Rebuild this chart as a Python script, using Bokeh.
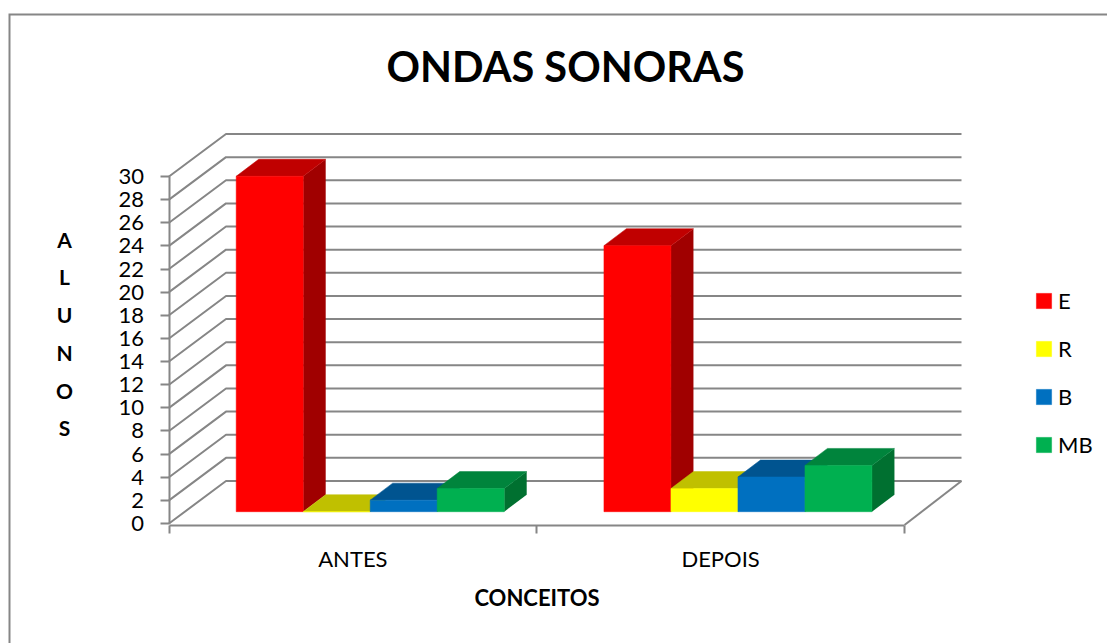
from bokeh.plotting import figure
from bokeh.models import (Range1d, LinearAxis, FixedTicker, Legend, LegendItem, Label)
from bokeh.core.properties import value
from bokeh.embed import file_html
from bokeh.resources import INLINE

# --- data
categories = ["ANTES", "DEPOIS"]
series_names = ["E", "R", "B", "MB"]
E = [29, 23]
R = [0, 2]
B = [1, 3]
MB = [2, 4]
y_ticks = list(range(0, 31, 2))

# --- style
front_colors = ["#FF0000", "#FFFF00", "#0070C0", "#00B050"]
top_colors = ["#C00000", "#C0C000", "#005490", "#00843C"]
side_colors = ["#A00000", "#A0A000", "#004878", "#007030"]
GRID = "#868686"
FONT = "Lato"

# --- layout: page pixels -> data units
W, H = 1107, 643
PX0, PY0 = 0, 0
X_ZERO, X_TWO = 168.5, 904.0
Y_ZERO, Y_THIRTY = 523.0, 176.0
SX = (X_TWO - X_ZERO) / 2
SY = (Y_ZERO - Y_THIRTY) / 30
def X(px): return (px - X_ZERO) / SX
def Y(py): return (Y_ZERO - py) / SY

WALL_DX = 57 / SX
WALL_DY = 42.5 / SY
BAR_DX = 22.5 / SX
BAR_DY = 17 / SY
BAR_W = 67 / SX
BAR_OFF = 67.2 / SX
BAR_BASE = 11.8 / SY

p = figure(width=W, height=H, output_backend="svg", toolbar_location=None,
           x_range=Range1d(X(PX0), X(PX0 + W)), y_range=Range1d(Y(PY0 + H), Y(PY0)),
           min_border=0, min_border_left=0, min_border_right=0, min_border_top=0, min_border_bottom=0,
           x_axis_type=None, y_axis_type=None, outline_line_color=None)
p.grid.visible = False

# chart border: left and top only, meeting at the corner
p.line([X(9), X(9), X(PX0 + W)], [Y(PY0 + H), Y(14), Y(14)], line_color=GRID, line_width=2,
       line_join="miter")

# walls and floor
xs, ys = [], []
for t in y_ticks:
    xs.append([0, WALL_DX, 2 + WALL_DX])
    ys.append([t, t + WALL_DY, t + WALL_DY])
xs.append([2 + WALL_DX, 2])
ys.append([WALL_DY, Y(524.5)])
p.multi_line(xs, ys, line_color=GRID, line_width=2)

# axes
yax = LinearAxis(fixed_location=0, bounds=(0, 30), ticker=FixedTicker(ticks=y_ticks))
yax.axis_line_color = GRID
yax.axis_line_width = 2
yax.major_tick_line_color = GRID
yax.major_tick_line_width = 2
yax.major_tick_out = 9
yax.major_tick_in = 0
yax.minor_tick_line_color = None
yax.major_label_standoff = 16
yax.major_label_text_font = FONT
yax.major_label_text_font_size = "22px"
yax.major_label_text_color = "#000000"
p.add_layout(yax, "left")

xax = LinearAxis(fixed_location=Y(524.5), bounds=(0, 2),
                 ticker=FixedTicker(ticks=[0.5, 1.5], minor_ticks=[0, 1, 2]))
xax.major_label_overrides = {0.5: categories[0], 1.5: categories[1]}
xax.axis_line_color = GRID
xax.axis_line_width = 2
xax.major_tick_line_color = None
xax.minor_tick_line_color = GRID
xax.minor_tick_line_width = 2
xax.minor_tick_out = 8
xax.minor_tick_in = 0
xax.major_label_standoff = 12
xax.major_label_text_font = FONT
xax.major_label_text_font_size = "22px"
xax.major_label_text_color = "#000000"
xax.axis_label = "CONCEITOS"
xax.axis_label_standoff = 8
xax.axis_label_text_font = FONT
xax.axis_label_text_font_size = "22px"
xax.axis_label_text_font_style = "bold"
xax.axis_label_text_color = "#000000"
p.add_layout(xax, "below")

# bars
front_renderers = []
for s, vals in enumerate([E, R, B, MB]):
    left = [g + BAR_OFF + s * BAR_W for g in range(len(vals))]
    right = [l + BAR_W for l in left]
    tops = [BAR_BASE + v for v in vals]
    base = [BAR_BASE] * len(vals)
    side_x = [[r, r + BAR_DX, r + BAR_DX, r] for r in right]
    side_y = [[b, b + BAR_DY, t + BAR_DY, t] for b, t in zip(base, tops)]
    top_x = [[l, l + BAR_DX, r + BAR_DX, r] for l, r in zip(left, right)]
    top_y = [[t, t + BAR_DY, t + BAR_DY, t] for t in tops]
    p.patches(side_x, side_y, fill_color=side_colors[s], line_color=None)
    p.patches(top_x, top_y, fill_color=top_colors[s], line_color=top_colors[s], line_width=0.5)
    r = p.quad(left=left, right=right, bottom=base, top=tops,
               fill_color=front_colors[s], line_color=front_colors[s], line_width=0.5)
    front_renderers.append(r)

# legend (the library insets a legend swatch by a tenth on each side)
legend = Legend(items=[LegendItem(label=n, renderers=[r]) for n, r in zip(series_names, front_renderers)],
                location=(1034 - PX0, PY0 + H - 458),
                glyph_width=19, glyph_height=19, spacing=21, padding=0, margin=0,
                label_standoff=5, border_line_color=None, background_fill_alpha=0,
                label_text_font=FONT, label_text_font_size="22px", label_text_color="#000000")
p.add_layout(legend, "center")

# vertical axis title, stacked
letters = list("ALUNOS")
letter_px = [239, 276, 314, 352, 390, 427]
p.text(x=[X(64)] * 6, y=[Y(q) for q in letter_px], text=letters,
       text_font=value(FONT), text_font_size="21px", text_font_style="bold",
       text_color="#000000", text_align="center", text_baseline="middle")

# chart title
p.add_layout(Label(x=X(565), y=Y(65), text="ONDAS SONORAS", text_font=FONT, text_font_size="41.5px",
                   text_font_style="bold", text_color="#000000", text_align="center",
                   text_baseline="middle"))

open("out.html", "w").write(file_html(p, INLINE))
